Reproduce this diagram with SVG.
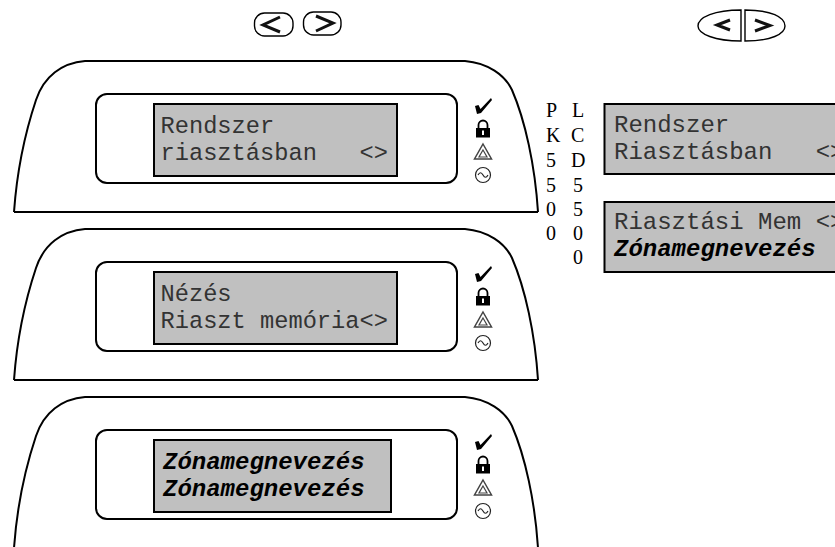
<svg xmlns="http://www.w3.org/2000/svg" xmlns:xlink="http://www.w3.org/1999/xlink" width="835" height="547" viewBox="0 0 835 547">
<style>
.ln{fill:none;stroke:#000;stroke-width:2}
.lcd{fill:#c0c0c0;stroke:#000;stroke-width:2}
.m{font-family:"Liberation Mono","Courier New",monospace;font-size:24px;fill:#333}
.s{font-size:23.700px}
.b{font-weight:bold;font-style:italic;fill:#000}
.t{font-family:"Liberation Serif","Times New Roman",serif;font-size:20px;fill:#000}
.btn{fill:#fff;stroke:#000;stroke-width:1.4}
.chev{fill:none;stroke:#111;stroke-width:3}
</style>
<defs>
<g id="icons">
<path d="M475 106L478.500 105L480.500 109L491 98L492 100L481 113L477 114Z" fill="#000"/>
<path d="M478.500 129v-4a4.500 4.500 0 0 1 9 0v4" fill="none" stroke="#000" stroke-width="1.8"/>
<rect x="476" y="128" width="14" height="9.500" fill="#000"/>
<rect x="482" y="130.500" width="2" height="4.500" fill="#fff"/>
<path d="M483 144L491.500 159H474.500Z" fill="none" stroke="#444" stroke-width="1.5"/>
<path d="M483 150L487 157H479Z" fill="none" stroke="#444" stroke-width="1.2"/>
<circle cx="483" cy="175" r="7.500" fill="none" stroke="#222" stroke-width="1.2"/>
<path d="M478 175q2.500-4.500 5 0t5 0" fill="none" stroke="#222" stroke-width="1.2"/>
</g>
<path id="shell" class="ln" d="M14 212C17 170 26 130 36 100C44 76 62 63 85 61H465C488 63 505 75 512 90C525 120 535 165 538 212"/>
</defs>
<g id="button-left-a"><rect class="btn" x="254.500" y="13" width="38.500" height="23" rx="10"/><path class="chev" d="M280 17L263 25L280 32"/></g>
<g id="button-right-a"><rect class="btn" x="303.500" y="12" width="37.500" height="23" rx="10"/><path class="chev" d="M316 16L333 23L316 31"/></g>
<g id="button-left-b"><path class="btn" d="M741 41V10C715 10 698 17 698 26C698 34 715 41 741 41Z"/><path class="chev" d="M730 20L717 25L730 30"/></g>
<g id="button-right-b"><path class="btn" d="M745 41V10C771 10 785 17 785 26C785 34 771 41 745 41Z"/><path class="chev" d="M755 20L770 25.500L755 31"/></g>

<g id="keypad-1">
<use xlink:href="#shell"/>
<path class="ln" d="M14 212H538"/>
<rect class="ln" x="96" y="94" width="361" height="89" rx="11"/>
<rect class="lcd" x="154" y="104" width="243" height="72"/>
<text class="m s" x="160.500" y="133">Rendszer</text>
<text class="m s" x="160.500" y="160" xml:space="preserve">riasztásban   &lt;&gt;</text>
<use xlink:href="#icons"/>
</g>
<g id="keypad-2" transform="translate(0 168)">
<use xlink:href="#shell"/>
<path class="ln" d="M14 212H538"/>
<rect class="ln" x="96" y="94" width="361" height="89" rx="11"/>
<rect class="lcd" x="154" y="104" width="243" height="72"/>
<text class="m s" x="160.500" y="133">Nézés</text>
<text class="m s" x="160.500" y="160">Riaszt memória&lt;&gt;</text>
<use xlink:href="#icons"/>
</g>
<g id="keypad-3" transform="translate(0 336)">
<use xlink:href="#shell"/>
<rect class="ln" x="96" y="94" width="361" height="89" rx="11"/>
<rect class="lcd" x="154" y="104" width="237" height="72"/>
<text class="m b" x="163" y="133">Zónamegnevezés</text>
<text class="m b" x="163" y="160">Zónamegnevezés</text>
<use xlink:href="#icons"/>
</g>

<g id="label-pk5500">
<text class="t" x="546" y="117">P</text>
<text class="t" x="546" y="142">K</text>
<text class="t" x="546" y="167">5</text>
<text class="t" x="546" y="192">5</text>
<text class="t" x="546" y="216">0</text>
<text class="t" x="546" y="240">0</text>
</g>
<g id="label-lcd5500">
<text class="t" x="572" y="117">L</text>
<text class="t" x="571" y="142">C</text>
<text class="t" x="571" y="167">D</text>
<text class="t" x="573" y="192">5</text>
<text class="t" x="573" y="216">5</text>
<text class="t" x="573" y="240">0</text>
<text class="t" x="573" y="264">0</text>
</g>
<g id="lcd-a">
<rect class="lcd" x="604.500" y="104" width="240" height="70"/>
<text class="m" x="614" y="132">Rendszer</text>
<text class="m" x="614" y="159" xml:space="preserve">Riasztásban   &lt;&gt;</text>
</g>
<g id="lcd-b">
<rect class="lcd" x="604.500" y="202" width="240" height="70"/>
<text class="m" x="614" y="229">Riasztási Mem &lt;&gt;</text>
<text class="m b" x="614" y="256">Zónamegnevezés</text>
</g>
</svg>
